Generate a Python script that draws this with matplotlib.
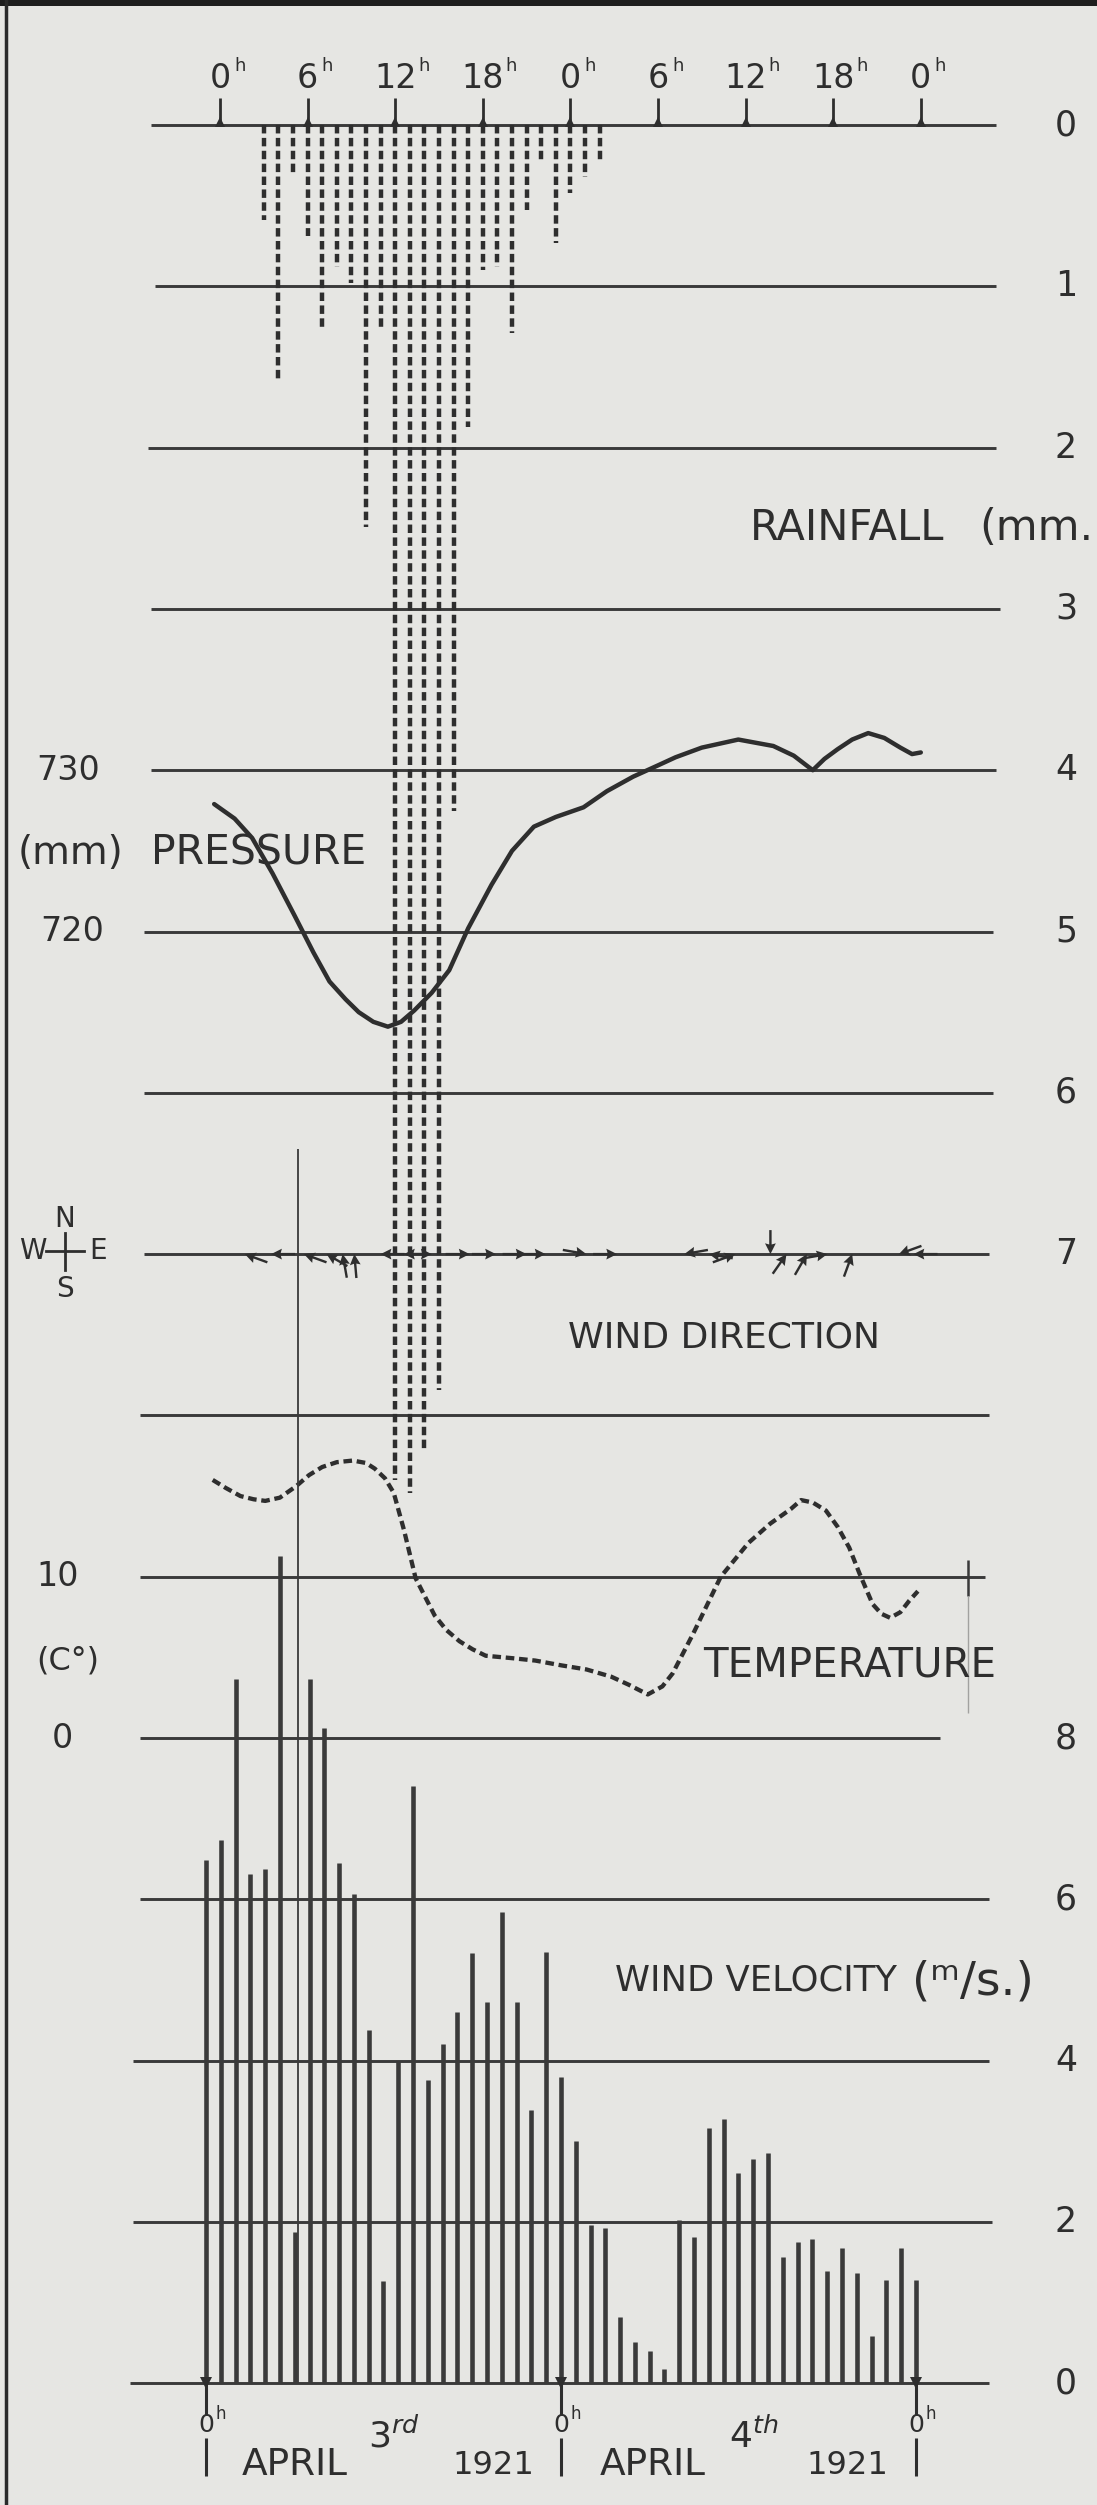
"""1921년 4월 3–4일 관측 기록 (강우·기압·풍향·기온·풍속) 재현 → out.png"""
import matplotlib
matplotlib.use("Agg")
import matplotlib.pyplot as plt
import numpy as np
from matplotlib.transforms import blended_transform_factory

W, H = 1097, 2505
PAPER, INK, LINE = "#e6e6e3", "#2e2e2e", "#3a3a3a"
WORD_FONT = ["DejaVu Sans"]
DIGIT_FONT = ["DejaVu Sans"]

# ---- 데이터 ----
RAIN_HOURS = list(range(3, 27))
RAIN_MM = [0.59, 1.58, 0.30, 0.69, 1.26, 0.88, 0.98, 2.49, 1.27, 8.40, 8.48, 8.23,
           7.84, 4.25, 1.87, 0.90, 0.88, 1.29, 0.53, 0.22, 0.73, 0.42, 0.32, 0.22]

PRESSURE_HOURS = [-0.4, 1.0, 2.2, 3.6, 5.1, 6.4, 7.5, 8.6, 9.5, 10.5,
                  11.5, 12.4, 13.3, 14.5, 15.7, 17.0, 18.6, 20.0, 21.5, 23.0,
                  24.9, 26.5, 28.3, 30.0, 31.2, 33.0, 35.5, 37.9, 39.3, 40.6,
                  41.4, 42.3, 43.3, 44.4, 45.5, 46.6, 47.4, 48.0]
PRESSURE_MM = [727.9, 727.0, 725.8, 723.6, 721.0, 718.7, 716.9, 715.8, 715.0, 714.4,
               714.1, 714.4, 715.1, 716.2, 717.6, 720.2, 722.9, 725.0, 726.5, 727.1,
               727.7, 728.7, 729.6, 730.3, 730.8, 731.4, 731.9, 731.5, 730.9, 730.0,
               730.7, 731.3, 731.9, 732.3, 732.0, 731.4, 731.0, 731.1]
PRESSURE_TICKS = [730, 720]

WIND_DIR_HOURS = [1.7, 3.5, 5.75, 7.3, 8.4, 9.2, 11.0, 12.6, 14.5, 17.1, 18.9, 21.0, 22.3,
                  25.1, 27.2, 31.8, 33.5, 35.3, 37.7, 38.8, 40.2, 41.6, 43.3, 46.5, 47.5]
WIND_DIR_DEG = [160, 180, 160, 150, 100, 95, 180, 180, 0, 0, 0, 0, 0,
                -10, 0, 190, 170, 20, 270, 55, 60, 10, 70, 200, 180]

TEMP_HOURS = [-0.5, 0.4, 1.4, 2.3, 3.1, 4.1, 5.2, 6.1, 7.0, 8.0,
              9.1, 10.0, 10.6, 11.3, 11.9, 12.6, 13.4, 14.7, 15.5, 16.4,
              17.3, 18.2, 20.0, 21.6, 23.4, 25.1, 26.8, 28.0, 29.3, 30.3,
              31.0, 32.4, 34.3, 36.2, 37.7, 39.1, 39.8, 40.6, 41.5, 42.3,
              43.1, 43.8, 44.7, 45.3, 45.9, 46.6, 47.2, 47.8]
TEMP_C = [16.0, 15.5, 15.0, 14.8, 14.7, 14.9, 15.6, 16.3, 16.8, 17.1,
          17.2, 17.05, 16.7, 16.1, 15.2, 12.9, 9.9, 7.6, 6.7, 6.0,
          5.5, 5.1, 4.95, 4.8, 4.5, 4.25, 3.8, 3.3, 2.7, 3.2,
          4.0, 6.45, 10.0, 12.1, 13.3, 14.2, 14.75, 14.6, 14.1, 13.1,
          11.8, 10.2, 8.3, 7.7, 7.45, 7.8, 8.5, 9.1]
TEMP_TICKS = [10, 0]

WIND_HOURS = list(range(49))
WIND_MS = [6.49, 6.73, 8.73, 6.31, 6.38, 10.26, 1.88, 8.73, 8.12, 6.45,
           6.07, 4.38, 1.27, 4.0, 7.41, 3.76, 4.2, 4.6, 5.33, 4.73,
           5.84, 4.73, 3.39, 5.35, 3.8, 3.0, 1.96, 1.92, 0.82, 0.51,
           0.40, 0.17, 2.02, 1.81, 3.17, 3.28, 2.61, 2.78, 2.86, 1.56,
           1.75, 1.79, 1.39, 1.68, 1.37, 0.59, 1.28, 1.68, 1.28]
GUST_HOUR, GUST_MS = 6.2, 15.3
WIND_TICKS = [8, 6, 4, 2, 0]

RAIN_TICKS = list(range(8))
TOP_TICK_HOURS = list(range(0, 49, 6))
TOP_TICK_LABELS = ["0", "6", "12", "18", "0", "6", "12", "18", "0"]
BOTTOM_TICK_HOURS = [0, 24, 48]

# ---- 화면 배치 (원본 픽셀 기준) ----
TOP_X0, TOP_DX = 220, 14.6      # 위쪽 시간축: 0h 위치, 시간당 px
BOT_X0, BOT_DX = 206, 14.79     # 아래쪽 시간축
ROW0, ROW_DY = 125, 161.3       # 첫 가로선, 가로선 간격
GRID_X0 = [151, 155, 148, 151, 151, 144, 144, 144, 140, 140, 140, 140, 133, 133, 130]
GRID_X1 = [996, 996, 996, 1000, 996, 993, 993, 989, 989, 985, 940, 989, 989, 992, 989]

fig = plt.figure(figsize=(W / 100, H / 100), dpi=100)
fig.patch.set_facecolor(PAPER)


def overlay(px0, px_per_x, py0, v0, px_per_v):
    """그림 전체를 덮는 투명 축: x=0 이 px0, y=v0 이 위에서 py0 px (px_per_v<0 이면 아래로 증가)."""
    ax = fig.add_axes([0, 0, 1, 1])
    ax.set_xlim(-px0 / px_per_x, (W - px0) / px_per_x)
    ax.set_ylim(v0 - (H - py0) / px_per_v, v0 + py0 / px_per_v)
    ax.axis("off")
    return ax


ax_px = overlay(0, 1, 0, 0, -1)
ax_r = overlay(TOP_X0, TOP_DX, ROW0, 0, -ROW_DY)
ax_p = overlay(TOP_X0, TOP_DX, ROW0 + 4 * ROW_DY, 730, ROW_DY / 10)
ax_d = overlay(TOP_X0, TOP_DX, ROW0 + 7 * ROW_DY, 0, ROW_DY)
ax_t = overlay(TOP_X0, TOP_DX, ROW0 + 10 * ROW_DY, 0, ROW_DY / 10)
ax_w = overlay(BOT_X0, BOT_DX, ROW0 + 14 * ROW_DY, 0, ROW_DY / 2)


def bx(ax):
    return blended_transform_factory(ax_px.transData, ax.transData)


# 테두리
ax_px.axhspan(0, 6, color="#1e1e1e", lw=0)
ax_px.axvline(6, color="#2a2a2a", lw=2.5)

# 가로선
rows = ROW0 + ROW_DY * np.arange(len(GRID_X0))
ax_px.hlines(rows, GRID_X0, GRID_X1, color=LINE, lw=2.1)
ax_px.vlines(968, 1560, 1596, color=LINE, lw=1.8)
ax_px.vlines(968, 1596, 1713, color="#a2a2a0", lw=1.0)

# 강우 (점선 막대, 아래로)
ax_r.vlines(RAIN_HOURS, 0, RAIN_MM, color=INK, lw=3.2, linestyles=[(0, (1.9, 1.0))])
# 기압
ax_p.plot(PRESSURE_HOURS, PRESSURE_MM, color=INK, lw=3.2, solid_capstyle="round")
# 기온 (점선)
ax_t.plot(TEMP_HOURS, TEMP_C, color=INK, lw=3.1, ls=(0, (2.0, 1.1)))
# 풍속
ax_w.vlines(WIND_HOURS, 0, WIND_MS, color=LINE, lw=3.3)
ax_w.vlines(GUST_HOUR, 0, GUST_MS, color=LINE, lw=1.3)
# 풍향 화살표
ang = np.radians(WIND_DIR_DEG)
L = 24
ax_d.quiver(WIND_DIR_HOURS, np.zeros(len(ang)), L * np.cos(ang), L * np.sin(ang),
            angles="uv", units="dots", scale_units="dots", scale=1, pivot="tip",
            width=2.4, headwidth=4.5, headlength=4.5, headaxislength=4, color=INK)

# 위쪽 시간 눈금
ax_r.vlines(TOP_TICK_HOURS, -0.17, 0, color=INK, lw=2.0)
ax_r.plot(TOP_TICK_HOURS, [-0.02] * len(TOP_TICK_HOURS), "^", color=INK, ms=7, mew=0)
for h, lab in zip(TOP_TICK_HOURS, TOP_TICK_LABELS):
    ax_r.text(h, -0.29, lab, ha="center", va="center", size=24, color=INK, family=DIGIT_FONT)
    ax_r.annotate("h", (h, -0.29), xytext=(5 + 9 * len(lab), 12), textcoords="offset pixels",
                  ha="left", va="center", size=13, color=INK, family=DIGIT_FONT)

# 아래쪽 시간 눈금
ax_w.vlines(BOTTOM_TICK_HOURS, -0.4, 0, color=INK, lw=2.2)
ax_w.vlines(BOTTOM_TICK_HOURS, -1.15, -0.68, color=INK, lw=2.2)
ax_w.plot(BOTTOM_TICK_HOURS, [0] * 3, "v", color=INK, ms=8, mew=0)
for h in BOTTOM_TICK_HOURS:
    ax_w.text(h, -0.52, "0", ha="center", va="center", size=18, color=INK, family=DIGIT_FONT)
    ax_w.annotate("h", (h, -0.52), xytext=(10, 11), textcoords="offset pixels",
                  ha="left", va="center", size=12, color=INK, family=DIGIT_FONT)

# 오른쪽 눈금 숫자
for v in RAIN_TICKS:
    ax_r.text(1066, v, str(v), transform=bx(ax_r), ha="center", va="center",
              size=25, color=INK, family=DIGIT_FONT)
for v in WIND_TICKS:
    ax_w.text(1066, v, str(v), transform=bx(ax_w), ha="center", va="center",
              size=25, color=INK, family=DIGIT_FONT)

# 왼쪽 눈금 숫자
for v, x in zip(PRESSURE_TICKS, [68, 72]):
    ax_p.text(x, v, str(v), transform=bx(ax_p), ha="center", va="center",
              size=24, color=INK, family=DIGIT_FONT)
for v, x in zip(TEMP_TICKS, [58, 62]):
    ax_t.text(x, v, str(v), transform=bx(ax_t), ha="center", va="center",
              size=24, color=INK, family=DIGIT_FONT)

# 글자 라벨
kw = dict(color=INK, family=WORD_FONT, va="center")
ax_px.text(750, 528, "RAINFALL", size=30, **kw)
ax_px.text(1093, 528, "(mm.", size=31, ha="right", **kw)
ax_px.text(18, 853, "(mm)", size=28, **kw)
ax_px.text(151, 853, "PRESSURE", size=29.5, **kw)
ax_px.text(568, 1337, "WIND DIRECTION", size=26, **kw)
ax_px.text(703, 1665, "TEMPERATURE", size=29, **kw)
ax_px.text(615, 1980, "WIND VELOCITY", size=25.5, **kw)
ax_px.text(912, 1982, "(ᵐ/s.)", size=34, color=INK, family=DIGIT_FONT, va="center")
ax_px.text(68, 1661, "(C°)", size=23, ha="center", **kw)
ax_px.text(242, 2465, "APRIL", size=27, **kw)
ax_px.text(368, 2436, r"3$^{rd}$", size=26, **kw)
ax_px.text(452, 2465, "1921", size=23, **kw)
ax_px.text(600, 2465, "APRIL", size=27, **kw)
ax_px.text(729, 2436, r"4$^{th}$", size=26, **kw)
ax_px.text(806, 2465, "1921", size=23, **kw)

# 방위 표시 (N/S/W/E)
ax_px.plot([65, 65], [1233, 1270], color=INK, lw=2)
ax_px.plot([46, 84], [1251, 1251], color=INK, lw=2)
for t, x, y in [("N", 65, 1219), ("S", 65, 1289), ("W", 33, 1251), ("E", 98, 1251)]:
    ax_px.text(x, y, t, ha="center", va="center", size=20, color=INK, family=WORD_FONT)

fig.savefig("out.png", dpi=100, facecolor=PAPER)
